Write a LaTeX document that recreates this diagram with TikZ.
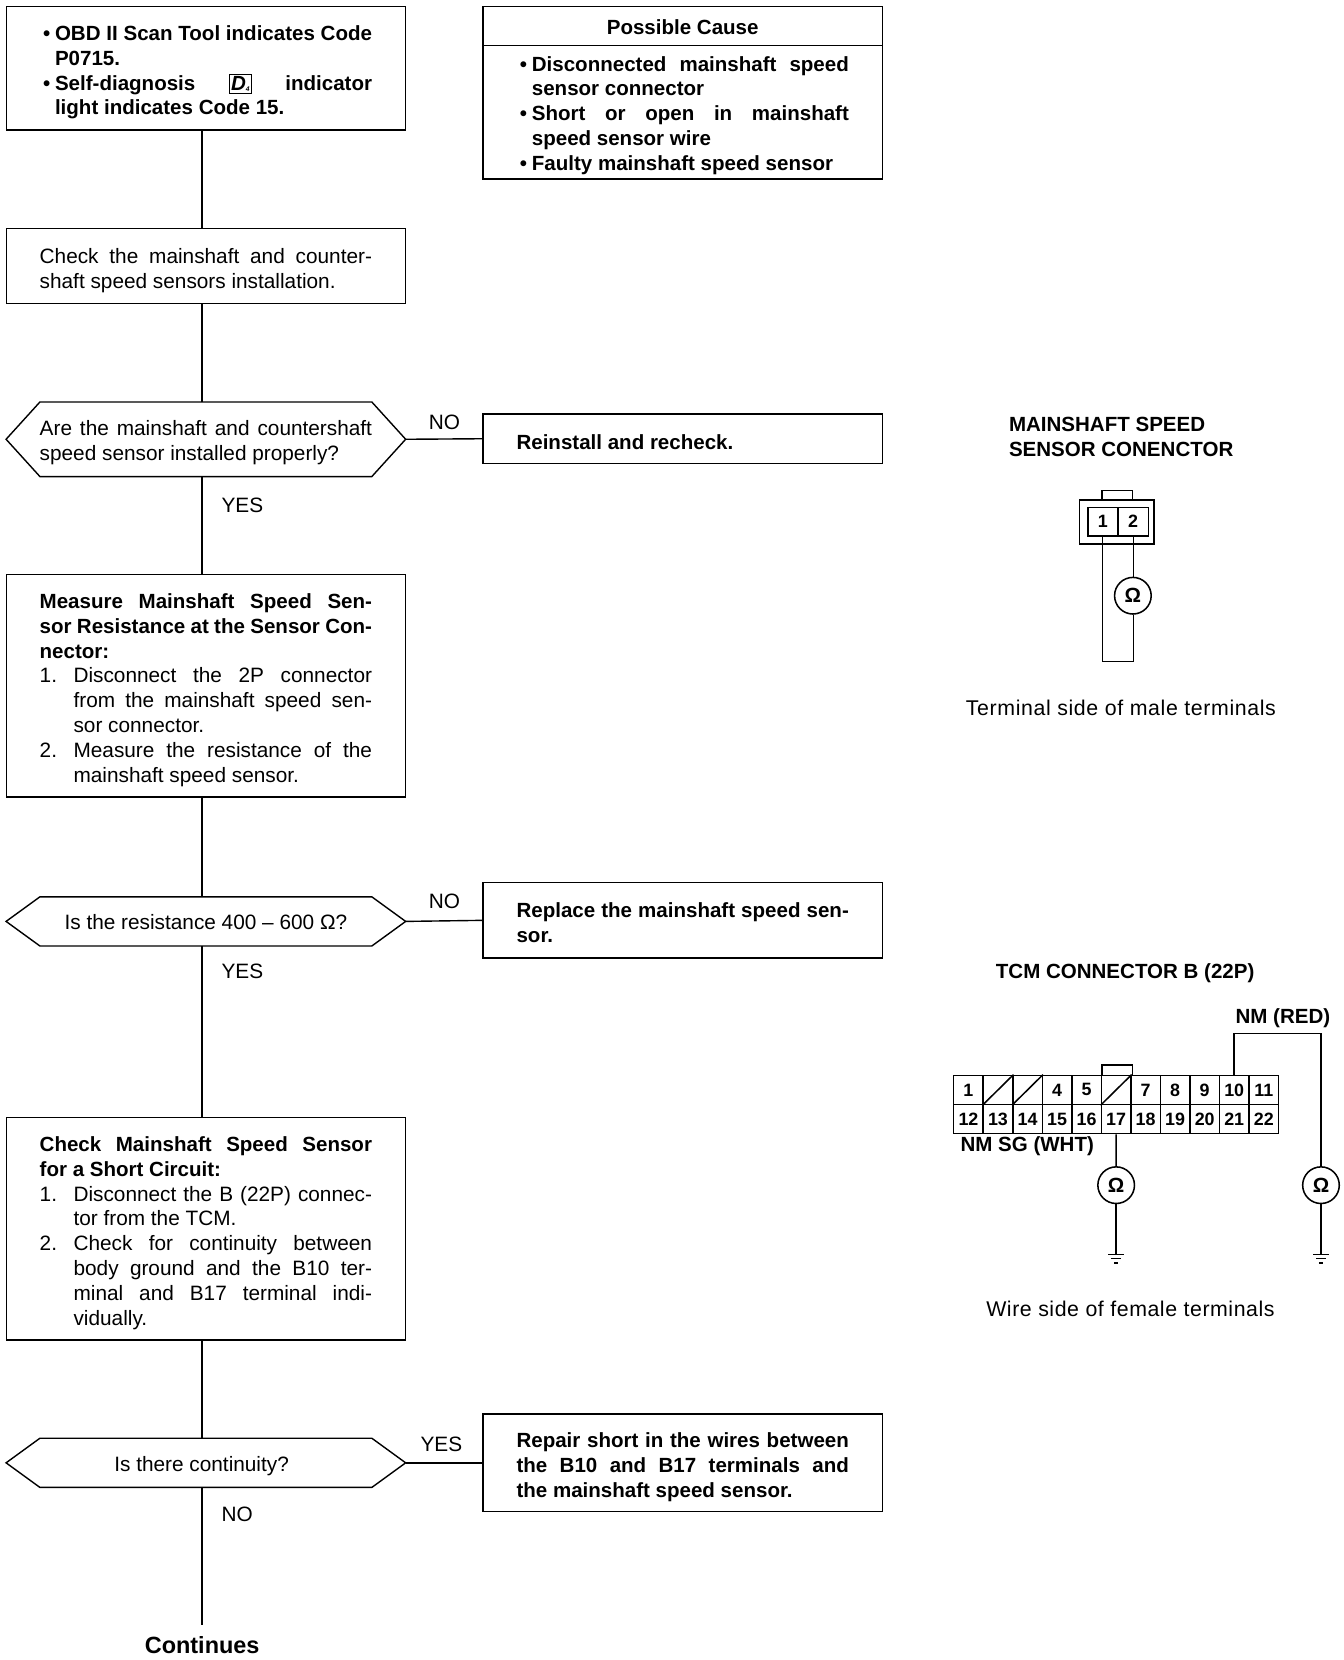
\documentclass[tikz,border=0pt]{standalone}
\usepackage{fontspec}
\setmainfont{Liberation Sans}
\usetikzlibrary{calc}
\def\U{0.794pt}
\newcommand\lineS[1]{\makebox[249.3pt][s]{#1}}
\newcommand\lineN[1]{\makebox[249.3pt][l]{#1}}
\newcommand\lineB[1]{\makebox[249.3pt][l]{\hspace*{2.5pt}\makebox[9pt][l]{•}\makebox[237.8pt][s]{#1}}}
\newcommand\lineBn[1]{\makebox[249.3pt][l]{\hspace*{2.5pt}\makebox[9pt][l]{•}#1}}
\newcommand\lineC[1]{\makebox[249.3pt][l]{\hspace*{11.5pt}#1}}
\newcommand\lineM[2]{\makebox[249.3pt][l]{\makebox[25.4pt][l]{#1}\makebox[223.9pt][s]{#2}}}
\newcommand\lineK[1]{\makebox[249.3pt][l]{\hspace*{25.4pt}\makebox[223.9pt][s]{#1}}}
\newcommand\lineL[1]{\makebox[249.3pt][l]{\hspace*{25.4pt}#1}}
\newcommand\dfour{{\setlength{\fboxsep}{0.8pt}\setlength{\fboxrule}{0.7pt}\fbox{\itshape D\raisebox{-1pt}{\tiny 4}}}}
\newcommand\TX[2][3.4pt]{\raisebox{-#1}[\height][\depth]{\begin{tabular}{@{}l@{}}#2\end{tabular}}}
\newcommand\hexof[1]{\draw[wire] (#1.west) -- ([xshift=25.4pt]#1.north west) -- ([xshift=-25.4pt]#1.north east) -- (#1.east) -- ([xshift=-25.4pt]#1.south east) -- ([xshift=25.4pt]#1.south west) -- cycle;}
\newcommand\groundat[1]{\draw[thinw] ($(#1)+(-7.5,0)$) -- ($(#1)+(7.5,0)$) ($(#1)+(-4.5,4)$) -- ($(#1)+(4.5,4)$) ($(#1)+(-2,8)$) -- ($(#1)+(2,8)$);}
\newcommand\bodyf{\fontsize{15.6pt}{18.6pt}\selectfont}
\newcommand\boldf{\fontsize{15.4pt}{18.6pt}\selectfont\bfseries}
\newcommand\cellf{\fontsize{13.4pt}{14pt}\selectfont\bfseries}
\newcommand\capf{\fontsize{16pt}{18.6pt}\selectfont}
\tikzset{
  wire/.style={line width=1.05pt,black,line join=miter},
  thinw/.style={line width=1.15pt,black},
  flowbox/.style={draw,line width=1.05pt,minimum width=377*\U,inner sep=0pt,font=\bodyf},
  decision/.style={minimum width=377*\U,inner sep=0pt,font=\bodyf},
  lbl/.style={inner sep=0pt,font=\bodyf},
  dlabel/.style={inner sep=0pt,font=\boldf,align=left},
  cell/.style={draw,line width=1.15pt,minimum width=27.9*\U,minimum height=27.5*\U,inner sep=0pt,font=\cellf},
  ohm/.style={circle,draw,line width=1.15pt,fill=white,minimum size=34.6*\U,inner sep=0pt,font=\boldf},
}
\begin{document}
\begin{tikzpicture}[x=0.794pt,y=-0.794pt]
\useasboundingbox (0,0) rectangle (1269.7,1568.3);
\coordinate (trunk) at (191,0);
% left column
\node[flowbox,minimum height=117*\U] (b1) at (194.5,64.5) {\TX{\boldf\lineB{OBD II Scan Tool indicates Code}\\\boldf\lineC{P0715.}\\\boldf\lineB{Self-diagnosis \dfour{} indicator}\\\boldf\lineC{light indicates Code 15.}}};
\node[flowbox,minimum height=71*\U] (b2) at (194.5,251.5) {\TX{\lineS{Check the mainshaft and counter-}\\\lineN{shaft speed sensors installation.}}};
\node[decision,minimum height=70*\U] (d1) at (194.5,415) {\TX[3pt]{\lineS{Are the mainshaft and countershaft}\\\lineN{speed sensor installed properly?}}};
\hexof{d1}
\node[flowbox,minimum height=210*\U] (b3) at (194.5,648) {\TX{\boldf\lineS{Measure Mainshaft Speed Sen-}\\\boldf\lineS{sor Resistance at the Sensor Con-}\\\boldf\lineN{nector:}\\\lineM{1.}{Disconnect the 2P connector}\\\lineK{from the mainshaft speed sen-}\\\lineL{sor connector.}\\\lineM{2.}{Measure the resistance of the}\\\lineL{mainshaft speed sensor.}}};
\node[decision,minimum height=46*\U] (d2) at (194.5,870.5) {\TX[2.2pt]{Is the resistance 400 – 600 Ω?}};
\hexof{d2}
\node[flowbox,minimum height=210*\U] (b4) at (194.5,1161) {\TX{\boldf\lineS{Check Mainshaft Speed Sensor}\\\boldf\lineN{for a Short Circuit:}\\\lineM{1.}{Disconnect the B (22P) connec-}\\\lineL{tor from the TCM.}\\\lineM{2.}{Check for continuity between}\\\lineK{body ground and the B10 ter-}\\\lineK{minal and B17 terminal indi-}\\\lineL{vidually.}}};
\node[decision,minimum height=46*\U] (d3) at (194.5,1382) {\TX[2.6pt]{Is there continuity?}\hspace*{6.4pt}};
\hexof{d3}
\node[lbl,inner ysep=8pt,font=\fontsize{17.6pt}{20pt}\selectfont\bfseries] (cont) at (191,1554) {Continues};
% right column
\node[flowbox,minimum height=37*\U] (causeh) at (645,24.5) {\TX[3pt]{\boldf Possible Cause}};
\node[flowbox,minimum height=126*\U] (causeb) at (645,106) {\TX[2.6pt]{\boldf\lineB{Disconnected mainshaft speed}\\\boldf\lineC{sensor connector}\\\boldf\lineB{Short or open in mainshaft}\\\boldf\lineC{speed sensor wire}\\\boldf\lineBn{Faulty mainshaft speed sensor}}};
\node[flowbox,minimum height=47*\U] (r1) at (645,414.5) {\TX[4.6pt]{\boldf\lineN{Reinstall and recheck.}}};
\node[flowbox,minimum height=71*\U] (r2) at (645,869.5) {\TX[3.8pt]{\boldf\lineS{Replace the mainshaft speed sen-}\\\boldf\lineN{sor.}}};
\node[flowbox,minimum height=92*\U] (r3) at (645,1382) {\TX{\boldf\lineS{Repair short in the wires between}\\\boldf\lineS{the B10 and B17 terminals and}\\\boldf\lineN{the mainshaft speed sensor.}}};
% connectors
\draw[wire] (b1.south -| trunk) -- (b2.north -| trunk);
\draw[wire] (b2.south -| trunk) -- (d1.north -| trunk);
\draw[wire] (d1.south -| trunk) -- (b3.north -| trunk);
\draw[wire] (b3.south -| trunk) -- (d2.north -| trunk);
\draw[wire] (d2.south -| trunk) -- (b4.north -| trunk);
\draw[wire] (b4.south -| trunk) -- (d3.north -| trunk);
\draw[wire] (d3.south -| trunk) -- (cont.north -| trunk);
\draw[wire] (d1.east) -- (r1.west);
\draw[wire] (d2.east) -- (r2.west);
\draw[wire] (d3.east) -- (r3.west);
% flow labels
\node[lbl] (no1) at (420,399) {NO};
\node[lbl] (yes1) at (229,477) {YES};
\node[lbl] (no2) at (420,852) {NO};
\node[lbl] (yes2) at (229,918) {YES};
\node[lbl] (yes3) at (417,1365) {YES};
\node[lbl] (no3) at (224,1431) {NO};
% mainshaft connector
\node[dlabel,anchor=west] (mtitle) at (953,412.5) {MAINSHAFT SPEED\\SENSOR CONENCTOR};
\draw[thinw] (1041,472.5) -- (1041,463.6) -- (1070,463.6) -- (1070,472.5);
\node[draw,line width=1.15pt,minimum width=70.5*\U,minimum height=41.5*\U,inner sep=0pt] (mouter) at (1055.2,493.2) {};
\node[cell,minimum width=28.3*\U,minimum height=26.8*\U] (m1) at (1041.9,492.8) {1};
\node[cell,minimum width=29*\U,minimum height=26.8*\U] (m2) at (1070.5,492.8) {2};
\node[ohm] (om1) at (1070.3,562.8) {Ω};
\coordinate (mcorner1) at (1041.6,625);
\coordinate (mcorner2) at (1071,625);
\draw[thinw] (m1.south -| mcorner1) -- (mcorner1) -- (mcorner2) -- (om1.south -| mcorner2);
\draw[thinw] (m2.south -| mcorner2) -- (om1.north -| mcorner2);
\node[lbl,font=\capf\addfontfeature{LetterSpace=2.9}] (mcap) at (1059,669) {Terminal side of male terminals};
% TCM connector
\node[dlabel] (ttitle) at (1063,919) {TCM CONNECTOR B (22P)};
\draw[thinw] (1041,1016) -- (1041,1006.3) -- (1070,1006.3) -- (1070,1016);
\foreach \n/\t [count=\i from 0] in {1/1,2/,3/,4/4,5/5,6/,7/7,8/8,9/9,10/10,11/11}
  \node[cell] (c\n) at ({901+27.9*(\i+.5)},1029.7) {\t};
\foreach \n [count=\i from 0] in {12,...,22}
  \node[cell] (c\n) at ({901+27.9*(\i+.5)},1057.2) {\n};
\foreach \n in {2,3,6} \draw[thinw] (c\n.south west) -- (c\n.north east);
\node[dlabel] (nmred) at (1212,962) {NM (RED)};
\node[dlabel] (nmsg) at (970.5,1083) {NM SG (WHT)};
\node[ohm] (om2) at (1054.5,1119.7) {Ω};
\node[ohm] (om3) at (1248,1119.7) {Ω};
\coordinate (g2) at (1054.5,1185);
\coordinate (g3) at (1248,1185);
\coordinate (bendr) at (1248,976.4);
\draw[thinw] (c10.north) |- (bendr) -- (om3.north);
\draw[thinw] (c17.south) -- (om2.north);
\draw[thinw] (om2.south) -- (g2);
\draw[thinw] (om3.south) -- (g3);
\groundat{g2}
\groundat{g3}
\node[lbl,font=\capf\addfontfeature{LetterSpace=2.6}] (tcap) at (1068,1237) {Wire side of female terminals};
\end{tikzpicture}
\end{document}
